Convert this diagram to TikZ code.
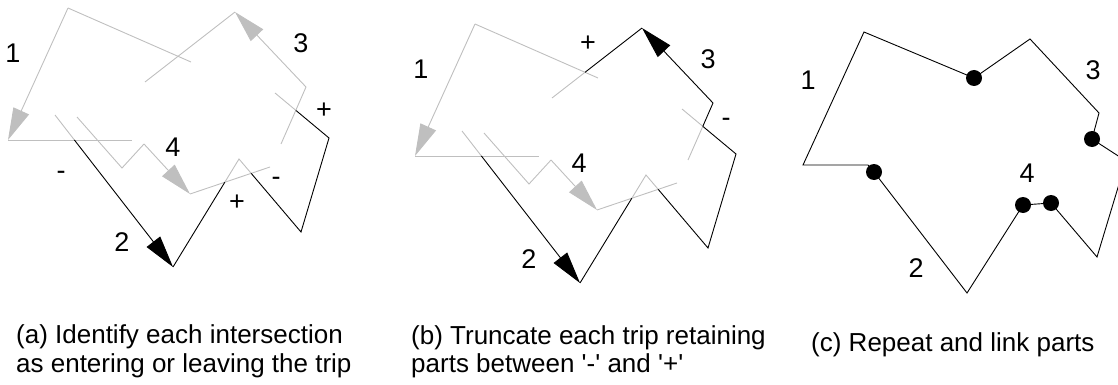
\documentclass[tikz,border=0pt]{standalone}
\usepackage{fontspec}
\setmainfont{Liberation Sans}[Ligatures=TeXOff]
\usetikzlibrary{arrows.meta}

\begin{document}
\begin{tikzpicture}[x=1pt, y=-1pt,
    faint/.style={draw=black!25, line width=0.9pt},
    kept/.style={draw=black, line width=0.9pt},
    head/.style={-{Triangle[length=32pt, width=17pt]}},
    lbl/.style={inner sep=0pt, font=\fontsize{27}{31}\selectfont},
    captext/.style={inner sep=0pt, anchor=base west, font=\fontsize{26}{30}\selectfont}]
    \useasboundingbox (0,0) rectangle (1118,385);
    \clip (0,0) rectangle (1118,385);

    % panels (a) and (b): the same four trips, trip 3 kept only in (b)
    \foreach \p/\sx/\sy/\tc in {a/0/0/black!25, b/407/16/black} {
      \begin{scope}[shift={(\sx,\sy)}]
        \coordinate (\p1a) at (191,62);
        \coordinate (\p1b) at (68,8);
        \coordinate (\p1c) at (8,140);
        \coordinate (\p1d) at (132,140);
        \coordinate (\p2a) at (55,115);
        \coordinate (\p2b) at (173,267);
        \coordinate (\p2c) at (239,159);
        \coordinate (\p2d) at (301,232);
        \coordinate (\p2e) at (329,138);
        \coordinate (\p2f) at (275,93);
        \coordinate (\p3a) at (281,144);
        \coordinate (\p3b) at (306,87);
        \coordinate (\p3c) at (235,12);
        \coordinate (\p3d) at (145,82);
        \coordinate (\p4a) at (77,117);
        \coordinate (\p4b) at (122,168);
        \coordinate (\p4c) at (144,144);
        \coordinate (\p4d) at (190,194);
        \coordinate (\p4e) at (270,167);

        \coordinate (\p x12) at (intersection of \p1c--\p1d and \p2a--\p2b);
        \coordinate (\p x24) at (intersection of \p2b--\p2c and \p4d--\p4e);
        \coordinate (\p x42) at (intersection of \p2c--\p2d and \p4d--\p4e);
        \coordinate (\p x23) at (intersection of \p2e--\p2f and \p3a--\p3b);
        \coordinate (\p x13) at (intersection of \p1a--\p1b and \p3c--\p3d);

        \draw[faint] (\p1a) -- (\p1b);
        \draw[faint, head] (\p1b) -- (\p1c);
        \draw[faint] (\p1c) -- (\p1d);
        \draw[faint] (\p4a) -- (\p4b) -- (\p4c);
        \draw[faint, head] (\p4c) -- (\p4d);
        \draw[faint] (\p4d) -- (\p4e);
        \draw[faint] (\p2a) -- (\p x12);
        \draw[faint] (\p x24) -- (\p2c) -- (\p x42);
        \draw[faint] (\p x23) -- (\p2f);
        \draw[faint] (\p3a) -- (\p x23);
        \draw[faint] (\p x13) -- (\p3d);

        \draw[kept, head] (\p x12) -- (\p2b);
        \draw[kept] (\p2b) -- (\p x24);
        \draw[kept] (\p x42) -- (\p2d) -- (\p2e) -- (\p x23);
        \draw[kept, draw=\tc] (\p x23) -- (\p3b);
        \draw[kept, draw=\tc, head] (\p3b) -- (\p3c);
        \draw[kept, draw=\tc] (\p3c) -- (\p x13);
      \end{scope}
    }

    % panel (c): linked parts
    \coordinate (c1) at (864,32);
    \coordinate (dA) at (974,78);
    \coordinate (c2) at (1030,39);
    \coordinate (c3) at (1099,113);
    \coordinate (dB) at (1092,139);
    \coordinate (c4) at (1126,161);
    \coordinate (c5) at (1097,257);
    \coordinate (dC) at (1051,203);
    \coordinate (dD) at (1023,205);
    \coordinate (c6) at (967,293);
    \coordinate (dE) at (874,172);
    \coordinate (c7) at (868,165);
    \coordinate (c8) at (803,165);
    \draw[kept] (c1) -- (dA) -- (c2) -- (c3) -- (dB) -- (c4) -- (c5) -- (dC)
        -- (dD) -- (c6) -- (dE) -- (c7) -- (c8) -- cycle;
    \foreach \d in {dA,dB,dC,dD,dE}
        \fill (\d) circle (8pt);

    % labels
    \node[lbl] (numA1) at (13,53) {1};
    \node[lbl] (numA3) at (301,43) {3};
    \node[lbl] (plusA1) at (324,111) {+};
    \node[lbl] (numA4) at (173,147) {4};
    \node[lbl] (minusA1) at (61,175) {-};
    \node[lbl] (plusA2) at (237,203) {+};
    \node[lbl] (minusA2) at (276,181) {-};
    \node[lbl] (numA2) at (122,242) {2};

    \node[lbl] (numB1) at (421,69) {1};
    \node[lbl] (plusB) at (588,44) {+};
    \node[lbl] (numB3) at (708,59) {3};
    \node[lbl] (minusB) at (726,122) {-};
    \node[lbl] (numB4) at (579,163) {4};
    \node[lbl] (numB2) at (529,259) {2};

    \node[lbl] (numC1) at (808,80) {1};
    \node[lbl] (numC3) at (1093,70) {3};
    \node[lbl] (numC4) at (1027,173) {4};
    \node[lbl] (numC2) at (916,268) {2};

    \node[captext] (capA1) at (16,343) {(a) Identify each intersection};
    \node[captext] (capA2) at (16,372) {as entering or leaving the trip};
    \node[captext] (capB1) at (411,344) {(b) Truncate each trip retaining};
    \node[captext] (capB2) at (411,372) {parts between '-' and '+'};
    \node[captext] (capC) at (811,351) {(c) Repeat and link parts};
\end{tikzpicture}
\end{document}
